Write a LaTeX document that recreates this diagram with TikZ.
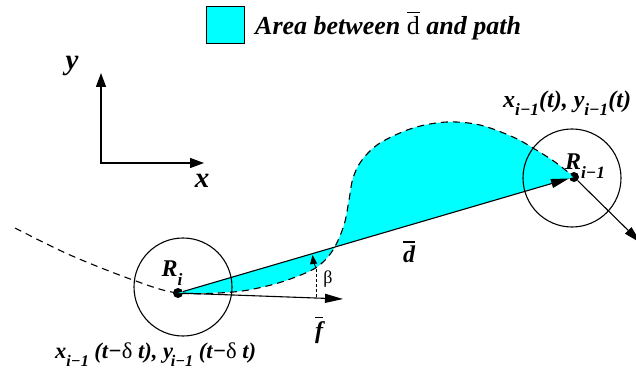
\documentclass[tikz,border=0pt]{standalone}
\usepackage{fontspec}
\setmainfont{Liberation Serif}
\usetikzlibrary{arrows.meta}
\definecolor{aqua}{RGB}{0,255,255}
\newcommand\sbs[1]{\raisebox{-0.35em}{\scalebox{0.72}{#1}}}
\newcommand\ovl[1]{\setbox0\hbox{#1}\leavevmode\rlap{\raisebox{\dimexpr\ht0+0.14em\relax}{\rule{\wd0}{0.055em}}}\box0\relax}
\begin{document}
\begin{tikzpicture}[x=1pt,y=-1pt,
  lbl/.style={inner sep=0pt, font=\fontsize{24}{28}\selectfont\bfseries\itshape},
  small/.style={inner sep=0pt, font=\fontsize{22.5}{26}\selectfont\bfseries\itshape},
  leg/.style={inner sep=0pt, font=\fontsize{26}{30}\selectfont\bfseries\itshape},
  big/.style={inner sep=0pt, font=\fontsize{29}{33}\selectfont\bfseries\itshape},
  greek/.style={inner sep=0pt, font=\fontsize{18}{22}\selectfont},
  ax/.style={line width=1.3pt, {Triangle[length=14pt,width=10pt]}-{Triangle[length=14pt,width=10pt]}},
  vec/.style={line width=1.1pt, -{Triangle[length=18pt,width=9pt]}},
  pathline/.style={line width=1.1pt, dash pattern=on 7pt off 5pt},
  robot/.style={circle, draw, line width=1.1pt, minimum size=98pt, inner sep=0pt},
  dot/.style={circle, fill, minimum size=10pt, inner sep=0pt}]
\useasboundingbox (0,0) rectangle (636,374);
% robots
\node[dot] (Ri) at (178,293) {};
\node[dot] (Rim) at (574,177) {};
% area
\fill[aqua] plot[smooth, tension=0.55] coordinates {(Ri.center) (233,292) (267,286) (293,278) (317,267) (333,250) (344,225) (349,200) (353,178) (362,160) (380,143) (413,128) (447,122) (480,125) (513,137) (533,148) (555,162) (Rim.center)} -- cycle;
\draw[pathline] plot[smooth, tension=0.55] coordinates {(15,228) (70,255) (133,280) (Ri.center) (233,292) (267,286) (293,278) (317,267) (333,250) (344,225) (349,200) (353,178) (362,160) (380,143) (413,128) (447,122) (480,125) (513,137) (533,148) (555,162) (Rim.center)};
\node[robot] (Ci) at (183,287) {};
\node[robot] (Cim) at (572,178) {};
% vectors
\coordinate (ftip) at (343,299);
\coordinate (exit) at (641,243);
\draw[vec] (Ri) -- (Rim);
\draw[vec] (Ri) -- (ftip);
\draw[vec] (Rim) -- (exit);
% beta marker
\coordinate (b0) at (316,297);
\coordinate (b1) at (316,268);
\coordinate (b2) at (312.5,255);
\draw[line width=0.6pt, dash pattern=on 3pt off 2pt] (b0) -- (b1);
\draw[line width=0.8pt, -{Triangle[length=9pt,width=7pt]}] (b1) to[bend left=8] (b2);
\node[greek] (beta) at (328,279) {β};
% axes
\coordinate (O) at (101,163);
\coordinate (Yt) at (101,73);
\coordinate (Xt) at (204,163);
\draw[ax] (Yt) -- (O) -- (Xt);
\node[big] (ylab) at (72,66) {y};
\node[big] (xlab) at (202,181) {x};
% legend
\node[draw, fill=aqua, line width=1pt, minimum width=38pt, minimum height=37pt, inner sep=0pt] (legbox) at (225,25.5) {};
\node[leg, anchor=west] (legtext) at (255,26) {Area between \ovl{\upshape\mdseries d} and path};
% labels
\node[lbl] (Rilab) at (172,273) {R\sbs{i}};
\node[lbl] (Rimlab) at (585,166) {R\sbs{i−1}};
\node[lbl, anchor=west] (toplab) at (503,103) {x\sbs{i−1}(t), y\sbs{i−1}(t)};
\node[small, anchor=west] (botlab) at (55,355) {x\sbs{i−1} (t−{\upshape\mdseries δ} t), y\kern-0.1em\sbs{i−1} (t−{\upshape\mdseries δ} t)};
\node[lbl] (dlab) at (409,252) {\ovl{d}};
\node[lbl] (flab) at (319,330) {\ovl{f}};
\end{tikzpicture}
\end{document}
